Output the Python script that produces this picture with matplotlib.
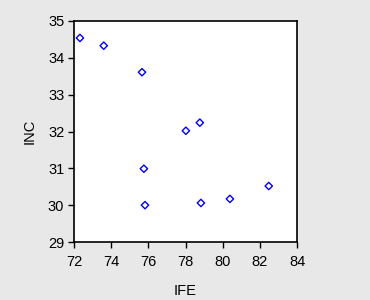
import matplotlib
matplotlib.use("Agg")
import matplotlib.pyplot as plt

ife = [72.32, 73.6, 75.66, 75.76, 75.82, 78.02, 78.77, 78.83, 80.39, 82.48]
inc = [34.54, 34.33, 33.61, 30.99, 30.00, 32.02, 32.24, 30.06, 30.17, 30.52]
xticks = [72, 74, 76, 78, 80, 82, 84]
yticks = [29, 30, 31, 32, 33, 34, 35]

plt.rcParams['font.family'] = ['Liberation Sans', 'DejaVu Sans']
fig = plt.figure(figsize=(3.7, 3.0), dpi=100, facecolor='#e8e8e8')
ax = fig.add_axes([74/370, 1-242/300, (297-74)/370, (242-21)/300])
ax.set_facecolor('white')
ax.scatter(ife, inc, marker='D', s=14, facecolors='none', edgecolors='#0000ff', linewidths=1.0)
ax.set_xlim(72, 84)
ax.set_ylim(29, 35)
ax.set_xticks(xticks)
ax.set_yticks(yticks)
ax.tick_params(direction='out', length=4.5, width=1, labelsize=10.5, colors='black')
ax.tick_params(axis='x', pad=5)
ax.tick_params(axis='y', pad=2.5)
for s in ax.spines.values():
    s.set_linewidth(1.2)
    s.set_color('black')
ax.set_xlabel('IFE', fontsize=10.5, labelpad=11)
ax.set_ylabel('INC', fontsize=10.5, labelpad=8)
fig.savefig('out.png', dpi=100, facecolor='#e8e8e8')
